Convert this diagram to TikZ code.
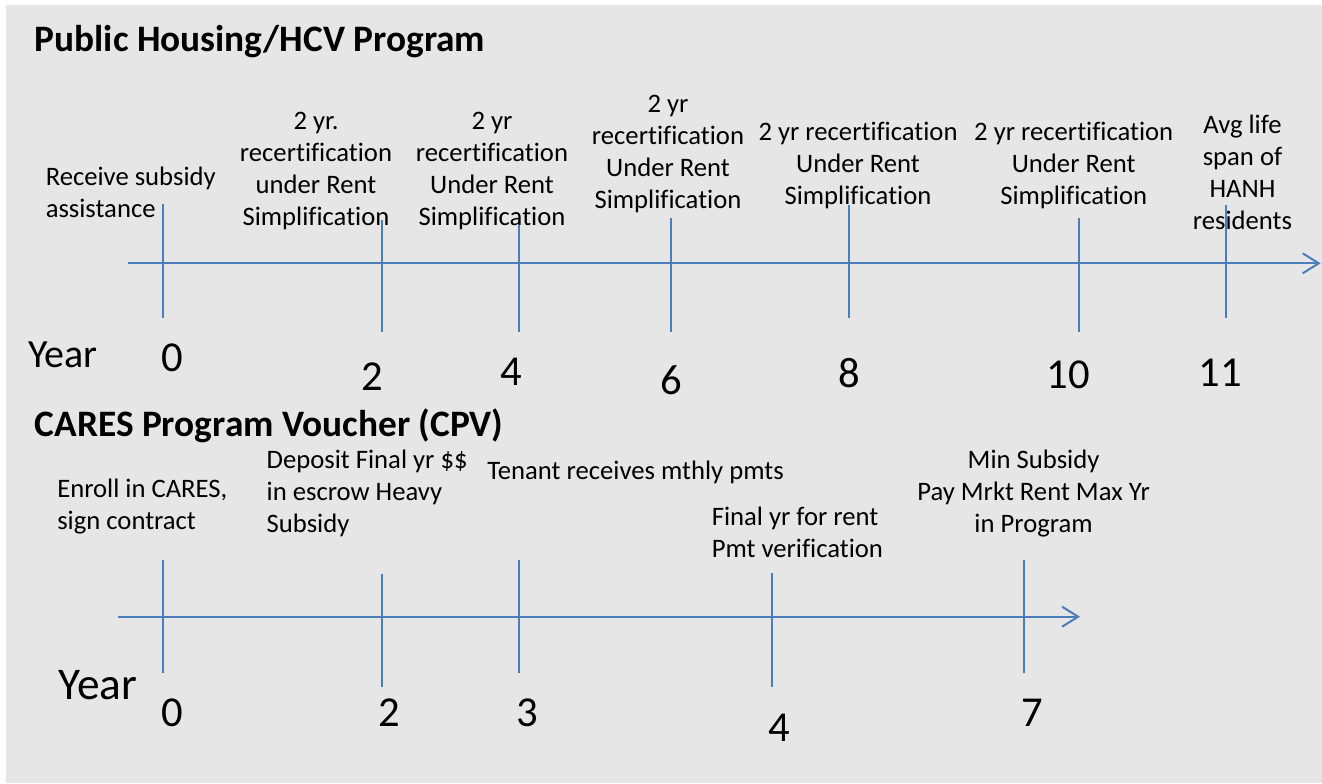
\documentclass[tikz,border=0pt]{standalone}
\usepackage{fontspec}
\setmainfont[Ligatures=NoCommon]{Carlito}
\usetikzlibrary{arrows.meta, positioning}
\definecolor{axisblue}{HTML}{4A7EBB}
\definecolor{slidegray}{HTML}{E6E6E6}

\begin{document}
\begin{tikzpicture}[x=0.75pt, y=-0.75pt,
    axis/.style={draw=axisblue, line width=1.5pt, -{Straight Barb[length=12pt, width=15pt]}},
    tickline/.style={draw=axisblue, line width=1.5pt},
    title/.style={font=\fontsize{28}{34}\selectfont\bfseries, anchor=base west, inner sep=0pt},
    event/.style={font=\fontsize{20}{24}\selectfont, align=center, inner sep=0pt},
    eventl/.style={event, align=left, anchor=west},
    yearnum/.style={font=\fontsize{32}{38}\selectfont, inner sep=0pt}]
    \useasboundingbox (0,0) rectangle (1322,783);
    \fill[slidegray] (6,5) rectangle (1322,783);

    % Public housing timeline
    \node[title] (ph) at (34.5,51) {Public Housing/HCV Program};
    \coordinate (pa) at (127.5,263.3);
    \coordinate (pb) at (1320.6,263.3);
    \draw[axis] (pa) -- (pb);
    \foreach \n/\x/\ya/\yb in {0/163.3/204/318, 2/381.7/220/332, 4/519.4/220/332,
        6/671/218/332, 8/848.7/205/318, 10/1079/218/332, 11/1226/205/318} {
        \coordinate (pt\n a) at (\x,\ya);
        \coordinate (pt\n b) at (\x,\yb);
        \draw[tickline] (pt\n a) -- (pt\n b);
    }
    \node[eventl] (pe0) at (45.5,192) {Receive subsidy\\assistance};
    \node[event] (pe2) at (316,171) {2 yr.\\recertification\\under Rent\\Simplification};
    \node[event] (pe4) at (492,171) {2 yr\\recertification\\Under Rent\\Simplification};
    \node[event] (pe6) at (668,153.5) {2 yr\\recertification\\Under Rent\\Simplification};
    \node[event] (pe8) at (858,165.5) {2 yr recertification\\Under Rent\\Simplification};
    \node[event] (pe10) at (1073.7,165.5) {2 yr recertification\\Under Rent\\Simplification};
    \node[event] (pe11) at (1242.5,172) {Avg life\\span of\\HANH\\residents};
    \node[yearnum, font=\fontsize{30}{36}\selectfont] (pyear) at (63,355) {Year};
    \foreach \n/\x/\y in {0/172.5/358, 2/372.5/377, 4/511/372, 6/671/380,
        8/849/373, 10/1068.6/375, 11/1220.6/373}
        \node[yearnum] (py\n) at (\x,\y) {\n};

    % CARES timeline
    \node[title] (cp) at (34.5,436) {CARES Program Voucher (CPV)};
    \coordinate (ca) at (118,616.7);
    \coordinate (cb) at (1080,616.7);
    \draw[axis] (ca) -- (cb);
    \foreach \n/\x/\ya/\yb in {0/163.3/560/672.7, 2/381.7/574/686.7, 3/519.4/560/672.7,
        4/771.9/573/686.7, 7/1023.9/560/672.7} {
        \coordinate (ct\n a) at (\x,\ya);
        \coordinate (ct\n b) at (\x,\yb);
        \draw[tickline] (ct\n a) -- (ct\n b);
    }
    \node[eventl] (ce0) at (57,507) {Enroll in CARES,\\sign contract};
    \node[eventl] (ce2) at (266.4,493) {Deposit Final yr \$\$\\in escrow Heavy\\Subsidy};
    \node[eventl] (ce3) at (487,472.5) {Tenant receives mthly pmts};
    \node[eventl] (ce4) at (711.5,532.5) {Final yr for rent\\Pmt verification};
    \node[event] (ce7) at (1033.6,494) {Min Subsidy\\Pay Mrkt Rent Max Yr\\in Program};
    \node[yearnum, font=\fontsize{34}{40}\selectfont] (cyear) at (98,685) {Year};
    \foreach \n/\x/\y in {0/172.5/713, 2/389/713, 3/527/713, 4/779.5/728, 7/1032/713}
        \node[yearnum] (cy\n) at (\x,\y) {\n};
\end{tikzpicture}
\end{document}
